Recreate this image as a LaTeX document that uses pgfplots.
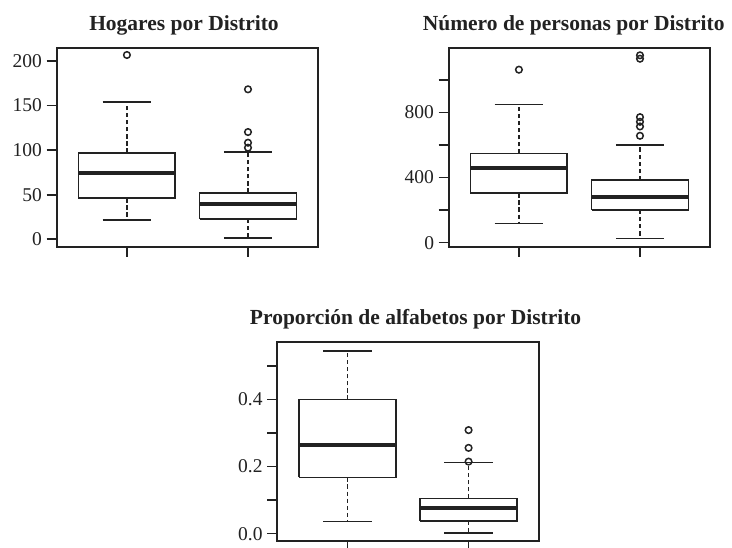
\documentclass[border=0pt]{standalone}
\usepackage{pgfplots}
\pgfplotsset{compat=1.18}
\usepackage{fontspec}
\setmainfont{Liberation Serif}
\definecolor{ink}{HTML}{222222}
\pgfplotsset{
  rstyle/.style={
    scale only axis,
    width=261.5pt, height=198.4pt,
    xmin=0.42, xmax=2.58,
    xtick={1,2}, xticklabels={},
    tick align=outside,
    tick pos=left,
    major tick length=10pt,
    axis line style={line width=1.8pt, ink},
    every tick/.style={line width=1.6pt, ink},
    yticklabel style={font=\fontsize{19.5}{22}\selectfont, text=ink, inner sep=0pt, xshift=-4.5pt},
    clip=false,
  },
  bx/.style={ink, line width=1.7pt, mark=none},
  md/.style={ink, line width=4pt, mark=none},
  wk/.style={ink, line width=1.7pt, mark=none, dash pattern=on 4.3pt off 2.8pt},
  cp/.style={ink, line width=1.7pt, mark=none},
  ol/.style={ink, only marks, mark=o, mark size=3.3pt, mark options={line width=1.5pt, solid}},
}
\begin{document}
\begin{tikzpicture}
\useasboundingbox (0pt,0pt) rectangle (732pt,-548pt);
% Panel 1: Hogares por Distrito
\begin{axis}[rstyle, at={(56.7pt,-246.7pt)}, anchor=south west,
  ymin=-8.3, ymax=214.2,
  ytick={0,50,100,150,200}, yticklabels={0,50,100,150,200}]
% box 1: lw 21.3, q1 46, med 74.7, q3 97.1, uw 154.3
\addplot[wk] coordinates {(1,97.1) (1,154.3)};
\addplot[wk] coordinates {(1,46) (1,21.3)};
\addplot[cp] coordinates {(0.8,154.3) (1.2,154.3)};
\addplot[cp] coordinates {(0.8,21.3) (1.2,21.3)};
\addplot[bx] coordinates {(0.6,46) (1.4,46) (1.4,97.1) (0.6,97.1) (0.6,46)};
\addplot[md] coordinates {(0.6,74.7) (1.4,74.7)};
\addplot[ol] coordinates {(1,206.7)};
% box 2: lw 1.5, q1 22.8, med 39.6, q3 52.3, uw 98.2
\addplot[wk] coordinates {(2,52.3) (2,98.2)};
\addplot[wk] coordinates {(2,22.8) (2,1.5)};
\addplot[cp] coordinates {(1.8,98.2) (2.2,98.2)};
\addplot[cp] coordinates {(1.8,1.5) (2.2,1.5)};
\addplot[bx] coordinates {(1.6,22.8) (2.4,22.8) (2.4,52.3) (1.6,52.3) (1.6,22.8)};
\addplot[md] coordinates {(1.6,39.6) (2.4,39.6)};
\addplot[ol] coordinates {(2,168.2) (2,120.3) (2,108.3) (2,102.7)};
\end{axis}
% Panel 2: Numero de personas por Distrito
\begin{axis}[rstyle, at={(448.7pt,-246.7pt)}, anchor=south west,
  ymin=-25, ymax=1194,
  ytick={0,200,400,600,800,1000}, yticklabels={0,,400,,800,}]
\addplot[wk] coordinates {(1,547.7) (1,849)};
\addplot[wk] coordinates {(1,303.4) (1,117)};
\addplot[cp] coordinates {(0.8,849) (1.2,849)};
\addplot[cp] coordinates {(0.8,117) (1.2,117)};
\addplot[bx] coordinates {(0.6,303.4) (1.4,303.4) (1.4,547.7) (0.6,547.7) (0.6,303.4)};
\addplot[md] coordinates {(0.6,461.5) (1.4,461.5)};
\addplot[ol] coordinates {(1,1062.6)};
\addplot[wk] coordinates {(2,383.6) (2,599)};
\addplot[wk] coordinates {(2,201) (2,24.6)};
\addplot[cp] coordinates {(1.8,599) (2.2,599)};
\addplot[cp] coordinates {(1.8,24.6) (2.2,24.6)};
\addplot[bx] coordinates {(1.6,201) (2.4,201) (2.4,383.6) (1.6,383.6) (1.6,201)};
\addplot[md] coordinates {(1.6,278.8) (2.4,278.8)};
\addplot[ol] coordinates {(2,1150.8) (2,1130) (2,771) (2,742.6) (2,713.8) (2,656.4)};
\end{axis}
% Panel 3: Proporcion de alfabetos por Distrito
\begin{axis}[rstyle, at={(277.3pt,-540.7pt)}, anchor=south west,
  ymin=-0.021, ymax=0.571,
  ytick={0,0.1,0.2,0.3,0.4,0.5}, yticklabels={0.0,,0.2,,0.4,}]
\addplot[wk] coordinates {(1,0.4) (1,0.545)};
\addplot[wk] coordinates {(1,0.168) (1,0.0367)};
\addplot[cp] coordinates {(0.8,0.545) (1.2,0.545)};
\addplot[cp] coordinates {(0.8,0.0367) (1.2,0.0367)};
\addplot[bx] coordinates {(0.6,0.168) (1.4,0.168) (1.4,0.4) (0.6,0.4) (0.6,0.168)};
\addplot[md] coordinates {(0.6,0.264) (1.4,0.264)};
\addplot[wk] coordinates {(2,0.105) (2,0.2124)};
\addplot[wk] coordinates {(2,0.0387) (2,0.002)};
\addplot[cp] coordinates {(1.8,0.2124) (2.2,0.2124)};
\addplot[cp] coordinates {(1.8,0.002) (2.2,0.002)};
\addplot[bx] coordinates {(1.6,0.0387) (2.4,0.0387) (2.4,0.105) (1.6,0.105) (1.6,0.0387)};
\addplot[md] coordinates {(1.6,0.0754) (2.4,0.0754)};
\addplot[ol] coordinates {(2,0.309) (2,0.256) (2,0.215)};
\end{axis}
\begin{scope}[every node/.style={anchor=base, inner sep=0pt, text=ink, font=\fontsize{21.5}{24}\selectfont\bfseries}]
\node at (184pt,-30.7pt) {Hogares por Distrito};
\node at (573.7pt,-30.7pt) {Número de personas por Distrito};
\node at (415.6pt,-325pt) {Proporción de alfabetos por Distrito};
\end{scope}
\end{tikzpicture}
\end{document}
